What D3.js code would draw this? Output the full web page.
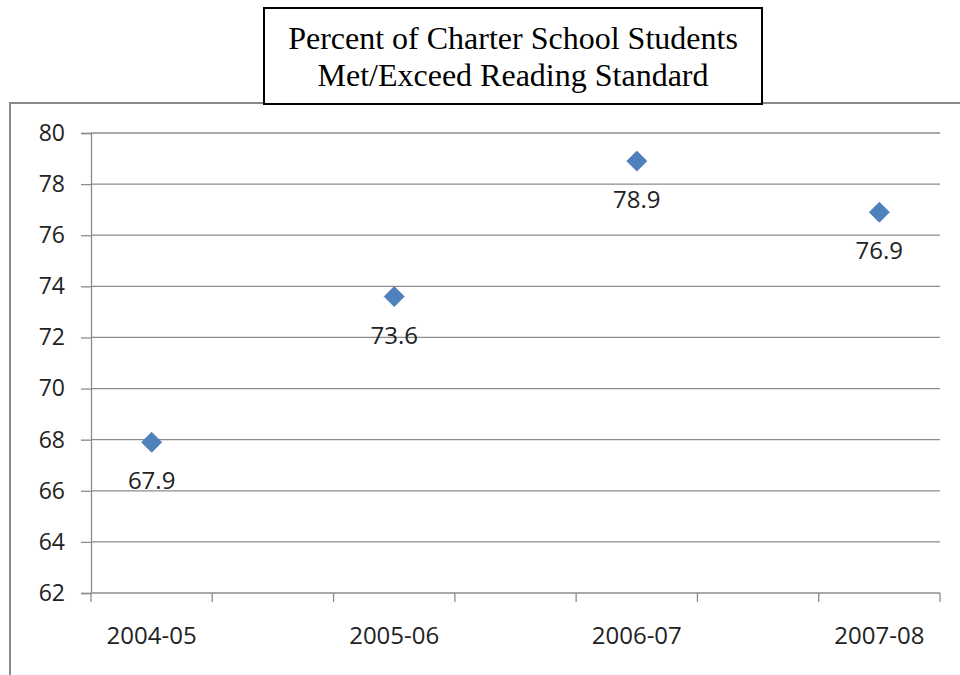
<!DOCTYPE html>
<html>
<head>
<meta charset="utf-8">
<script src="https://cdn.jsdelivr.net/npm/d3@7"></script>
<style>
  html, body { margin: 0; padding: 0; background: #fff; }
  svg { display: block; }
</style>
</head>
<body>
<svg id="chart" width="960" height="675"></svg>
<script>
// School years and the share of charter students meeting the reading standard
const years = ["2004-05", "2005-06", "2006-07", "2007-08"];
const percentMet = [67.9, 73.6, 78.9, 76.9];
const yTicks = [62, 64, 66, 68, 70, 72, 74, 76, 78, 80];
const titleLines = ["Percent of Charter School Students", "Met/Exceed Reading Standard"];

const svg = d3.select("#chart");
const W = 960, H = 675;
const plot = { left: 91, right: 940, top: 133, bottom: 593 };
const tickFont = "'Open Sans', 'Noto Sans', sans-serif";

// Outer chart frame (runs off the right and bottom edges)
svg.append("rect")
  .attr("x", 10).attr("y", 103)
  .attr("width", W + 20).attr("height", H)
  .attr("fill", "#fff")
  .attr("stroke", "#8a8a8a").attr("stroke-width", 2);

// The category axis has a blank slot between consecutive school years
const slots = d3.range(years.length * 2 - 1);
const x = d3.scaleBand().domain(slots).range([plot.left, plot.right]);
const y = d3.scaleLinear().domain([62, 80]).range([plot.bottom, plot.top]);
const px = i => x(i * 2) + x.bandwidth() / 2;

// Horizontal gridlines
svg.append("g").selectAll("line").data(yTicks.slice(1)).join("line")
  .attr("x1", plot.left).attr("x2", plot.right)
  .attr("y1", d => y(d)).attr("y2", d => y(d))
  .attr("stroke", "#8c8c8c").attr("stroke-width", 1.3);

// Y axis
const yAxis = svg.append("g")
  .attr("transform", `translate(${plot.left},0)`)
  .call(d3.axisLeft(y).tickValues(yTicks).tickSize(10).tickPadding(16).tickFormat(d3.format("d")));
yAxis.select(".domain").attr("stroke", "#8c8c8c").attr("stroke-width", 1.3);
yAxis.selectAll(".tick line").attr("stroke", "#8c8c8c").attr("stroke-width", 1.3);
yAxis.selectAll(".tick text")
  .attr("fill", "#222").attr("font-family", tickFont).attr("font-size", 23);

// X axis: baseline with a tick mark at every slot edge
const edges = slots.map(s => x(s)).concat([plot.right]);
const xg = svg.append("g");
xg.append("line")
  .attr("x1", plot.left).attr("x2", plot.right)
  .attr("y1", plot.bottom).attr("y2", plot.bottom)
  .attr("stroke", "#8c8c8c").attr("stroke-width", 1.3);
xg.selectAll("line.tk").data(edges).join("line").attr("class", "tk")
  .attr("x1", d => d).attr("x2", d => d)
  .attr("y1", plot.bottom).attr("y2", plot.bottom + 9)
  .attr("stroke", "#8c8c8c").attr("stroke-width", 1.3);
xg.selectAll("text").data(years).join("text")
  .attr("x", (d, i) => px(i)).attr("y", plot.bottom + 51)
  .attr("text-anchor", "middle")
  .attr("fill", "#222").attr("font-family", tickFont).attr("font-size", 24)
  .text(d => d);

// Diamond markers and their value labels
const pts = years.map((yr, i) => ({ i, v: percentMet[i] }));
const diamond = d3.symbol().type(d3.symbolSquare).size(200);
svg.append("g").selectAll("path").data(pts).join("path")
  .attr("d", diamond)
  .attr("transform", d => `translate(${px(d.i)},${y(d.v)}) rotate(45)`)
  .attr("fill", "#4f81bd").attr("stroke", "#4a7ab4").attr("stroke-width", 0.8);

svg.append("g").selectAll("text").data(pts).join("text")
  .attr("x", d => px(d.i)).attr("y", d => y(d.v) + 47)
  .attr("text-anchor", "middle")
  .attr("fill", "#222").attr("font-family", tickFont).attr("font-size", 24)
  .text(d => d.v.toFixed(1));

// Title box
svg.append("rect")
  .attr("x", 264).attr("y", 8).attr("width", 498).attr("height", 96)
  .attr("fill", "#fff").attr("stroke", "#000").attr("stroke-width", 2);
svg.append("g").selectAll("text").data(titleLines).join("text")
  .attr("x", 513).attr("y", (d, i) => 49 + i * 37)
  .attr("text-anchor", "middle")
  .attr("fill", "#000")
  .attr("font-family", "'Liberation Serif', 'Times New Roman', serif")
  .attr("font-size", 32)
  .text(d => d);
</script>
</body>
</html>
